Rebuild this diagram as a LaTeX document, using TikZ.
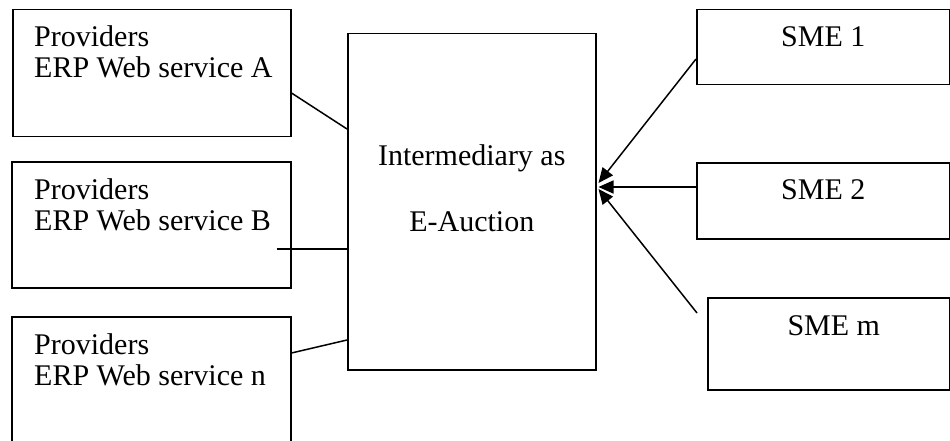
\documentclass[tikz,border=0pt]{standalone}
\usepackage{fontspec}
\setmainfont{Liberation Serif}
\usetikzlibrary{arrows.meta,calc}

\tikzset{
  box/.style={draw=black, line width=1.5pt, rectangle, anchor=north west, inner sep=0pt},
  label/.style={inner sep=0pt, font=\fontsize{30}{31}\selectfont, text=black},
  link/.style={draw=black, line width=1.5pt},
  feed/.style={link, -{Triangle[length=15pt,width=13pt]}}
}

\begin{document}
\begin{tikzpicture}[x=1pt, y=-1pt]
  \clip (0,0) rectangle (950,441);
  \fill[white] (0,0) rectangle (950,441);

  % provider boxes on the left
  \node[box, minimum width=278pt, minimum height=127pt] (pa) at (12,9) {};
  \node[box, minimum width=279pt, minimum height=126pt] (pb) at (11,161) {};
  \node[box, minimum width=279pt, minimum height=150pt] (pn) at (11,316) {};

  % the base anchor sits on the last line of each two-line label
  \node[label, anchor=base west, align=left] (pat) at ($(pa.north west)+(22,69)$) {Providers\\ERP Web service A};
  \node[label, anchor=base west, align=left] (pbt) at ($(pb.north west)+(23,69)$) {Providers\\ERP Web service B};
  \node[label, anchor=base west, align=left] (pnt) at ($(pn.north west)+(23,69)$) {Providers\\ERP Web service n};

  % intermediary in the middle
  \node[box, minimum width=248pt, minimum height=336pt] (mid) at (347,33) {};
  \node[label, anchor=base, align=center, font=\fontsize{30}{66}\selectfont] (midt)
    at ($(mid.north)+(0,198)$) {Intermediary as\\E-Auction};

  % SME boxes on the right
  \node[box, minimum width=253pt, minimum height=75pt] (s1) at (696,9) {};
  \node[box, minimum width=253pt, minimum height=76pt] (s2) at (696,162) {};
  \node[box, minimum width=242pt, minimum height=92pt] (sm) at (707,297) {};

  \node[label, anchor=base] (s1t) at ($(s1.north)+(0,38)$) {SME 1};
  \node[label, anchor=base] (s2t) at ($(s2.north)+(0,37)$) {SME 2};
  \node[label, anchor=base] (smt) at ($(sm.north)+(5,38)$) {SME m};

  % links from the providers
  \draw[link] ($(pa.north east)+(0,84)$) -- ($(mid.north west)+(0,96)$);
  \coordinate (bstart) at ($(pb.north east)+(-15,88)$);
  \draw[link] (bstart) -- ($(mid.north west)+(0,216)$);
  \draw[link] ($(pn.north east)+(0,37)$) -- ($(mid.north west)+(0,307)$);

  % arrows from the SMEs
  \coordinate (mstart) at ($(sm.north west)+(-10,16)$);
  \draw[feed] ($(s1.north west)+(0,50)$) -- ($(mid.north east)+(2,150)$);
  \draw[feed] ($(s2.north west)+(0,25)$) -- ($(mid.north east)+(2,154)$);
  \draw[feed] (mstart) -- ($(mid.north east)+(2,156)$);
\end{tikzpicture}
\end{document}
